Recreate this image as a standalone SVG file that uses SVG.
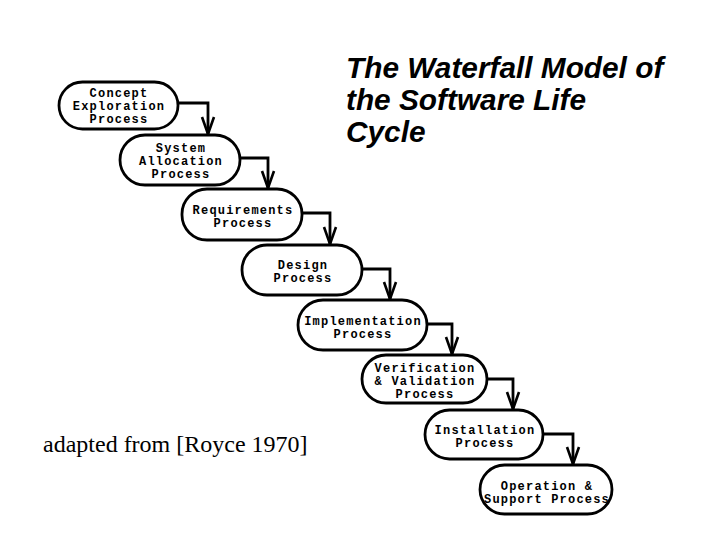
<svg xmlns="http://www.w3.org/2000/svg" width="720" height="540" viewBox="0 0 720 540">
<style>
.node rect{fill:#fff;stroke:#000;stroke-width:2.8}
.node text{font-family:"Liberation Mono","DejaVu Sans Mono",monospace;font-weight:bold;font-size:12px;letter-spacing:1.2px;text-anchor:middle;fill:#000}
.conn path{fill:none;stroke:#000;stroke-width:2.8;marker-end:url(#v)}
.title{font-family:"Liberation Sans",Arial,sans-serif;font-weight:bold;font-style:italic;font-size:29.8px;fill:#000}
.credit{font-family:"Liberation Serif","Times New Roman",serif;font-size:24px;fill:#000}
</style>
<defs>
<marker id="v" markerUnits="userSpaceOnUse" markerWidth="40" markerHeight="40" refX="0" refY="0" viewBox="-20 -20 40 40" orient="auto" overflow="visible">
<path d="M-17,-6 L0,0 L-17,6" fill="none" stroke="#000" stroke-width="2.6" stroke-linejoin="miter"/>
</marker>
</defs>
<rect width="720" height="540" fill="#fff"/>
<g id="title">
<text class="title" x="346" y="78">The Waterfall Model of</text>
<text class="title" x="346" y="110">the Software Life</text>
<text class="title" x="346" y="142">Cycle</text>
</g>
<text id="credit" class="credit" x="43" y="452">adapted from [Royce 1970]</text>
<g id="connectors" class="conn">
<path d="M178,103 H208 V134"/>
<path d="M240,158 H268 V188"/>
<path d="M302,213 H330 V244"/>
<path d="M362,269 H390 V299"/>
<path d="M427,324 H452 V354"/>
<path d="M487,379 H513 V409"/>
<path d="M543,434 H573 V464"/>
</g>
<g id="n1" class="node">
<rect x="59" y="82" width="119" height="47" rx="23.5"/>
<text x="119" y="97">Concept</text>
<text x="119" y="110">Exploration</text>
<text x="119" y="123">Process</text>
</g>
<g id="n2" class="node">
<rect x="120" y="135" width="120" height="50" rx="25"/>
<text x="181" y="152">System</text>
<text x="181" y="165">Allocation</text>
<text x="181" y="178">Process</text>
</g>
<g id="n3" class="node">
<rect x="182" y="189" width="120" height="51" rx="25"/>
<text x="243" y="214">Requirements</text>
<text x="243" y="227">Process</text>
</g>
<g id="n4" class="node">
<rect x="242" y="245" width="120" height="50" rx="25"/>
<text x="303" y="269">Design</text>
<text x="303" y="282">Process</text>
</g>
<g id="n5" class="node">
<rect x="298" y="300" width="129" height="50" rx="25"/>
<text x="363" y="325">Implementation</text>
<text x="363" y="338">Process</text>
</g>
<g id="n6" class="node">
<rect x="362" y="355" width="125" height="48" rx="24"/>
<text x="425" y="372">Verification</text>
<text x="425" y="385">&amp; Validation</text>
<text x="425" y="398">Process</text>
</g>
<g id="n7" class="node">
<rect x="425" y="410" width="118" height="49" rx="24.5"/>
<text x="485" y="434">Installation</text>
<text x="485" y="447">Process</text>
</g>
<g id="n8" class="node">
<rect x="480" y="465" width="132" height="49" rx="24.5"/>
<text x="547" y="490">Operation &amp;</text>
<text x="547" y="503">Support Process</text>
</g>
</svg>
